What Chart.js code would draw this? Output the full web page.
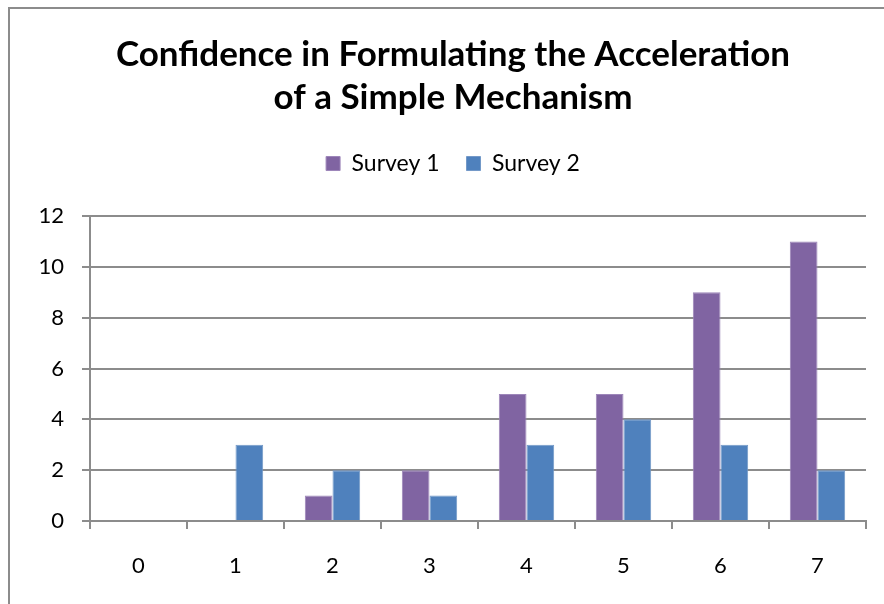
<!DOCTYPE html>
<html>
<head>
<meta charset="utf-8">
<script src="https://cdn.jsdelivr.net/npm/chart.js@4"></script>
<style>
	body { margin: 0; background: #fff; }
	#wrap { width: 884px; height: 604px; position: relative; }
</style>
</head>
<body>
<div id="wrap"><canvas id="mycanvas" width="884" height="604"></canvas></div>
<script>
var categories = ["0", "1", "2", "3", "4", "5", "6", "7"];
var survey1 = [0, 0, 1, 2, 5, 5, 9, 11];
var survey2 = [0, 3, 2, 1, 3, 4, 3, 2];
var yTicks = [0, 2, 4, 6, 8, 10, 12];

// outer frame of the chart (only top and left edges are visible)
var framePlugin = {
	id: "frame",
	afterInit: function(chart) {
		// leave extra room under the legend, like the reference
		var lg = chart.legend;
		if (lg && !lg._padded) {
			var origFit = lg.fit;
			lg.fit = function() {
				origFit.call(this);
				this.height += 31;
			};
			lg._padded = true;
		}
	},
	beforeDraw: function(chart) {
		var c = chart.ctx;
		c.save();
		c.fillStyle = "#fff";
		c.fillRect(0, 0, chart.width, chart.height);
		c.strokeStyle = "#8c8c8c";
		c.lineWidth = 2;
		c.beginPath();
		c.moveTo(9, chart.height);
		c.lineTo(9, 8);
		c.lineTo(chart.width, 8);
		c.stroke();
		c.restore();
	}
};

var chartdata = {
	labels: categories,
	datasets: [
		{
			label: "Survey 1",
			backgroundColor: "#8064A2",
			borderColor: "#9d86b9",
			borderWidth: 1,
			data: survey1
		},
		{
			label: "Survey 2",
			backgroundColor: "#4F81BD",
			borderColor: "#7399c8",
			borderWidth: 1,
			data: survey2
		}
	]
};

var ctx = document.getElementById("mycanvas");

var BarGraph = new Chart(ctx, {
	type: "bar",
	data: chartdata,
	plugins: [framePlugin],
	options: {
		responsive: false,
		animation: false,
		layout: { padding: { left: 40, right: 18, top: 0, bottom: 0 } },
		datasets: {
			bar: { categoryPercentage: 0.571, barPercentage: 1.0 }
		},
		plugins: {
			title: {
				display: true,
				text: ["Confidence in Formulating the Acceleration", "of a Simple Mechanism"],
				color: "#000",
				font: { family: "Lato", size: 35, weight: "bold", lineHeight: 1.229 },
				padding: { top: 33, bottom: 6 }
			},
			legend: {
				display: true,
				labels: {
					color: "#000",
					font: { family: "Lato", size: 23 },
					boxWidth: 14,
					boxHeight: 14,
					padding: 27
				}
			},
			tooltip: { enabled: false }
		},
		scales: {
			x: {
				afterFit: function(scale) { scale.height = 83; },
				grid: {
					display: true,
					drawOnChartArea: false,
					drawTicks: true,
					tickLength: 8,
					color: "#8c8c8c",
					lineWidth: 2
				},
				border: { display: true, color: "#8c8c8c", width: 2 },
				ticks: {
					color: "#000",
					font: { family: "Lato", size: 22 },
					padding: 24
				}
			},
			y: {
				min: 0,
				max: 12,
				afterBuildTicks: function(scale) {
					scale.ticks = yTicks.map(function(v) { return { value: v }; });
				},
				afterFit: function(scale) { scale.width = 50; },
				grid: {
					color: "#8c8c8c",
					lineWidth: 2,
					tickLength: 8
				},
				border: { display: true, color: "#8c8c8c", width: 2 },
				ticks: {
					color: "#000",
					font: { family: "Lato", size: 22 },
					padding: 18
				}
			}
		}
	}
});
</script>
</body>
</html>
